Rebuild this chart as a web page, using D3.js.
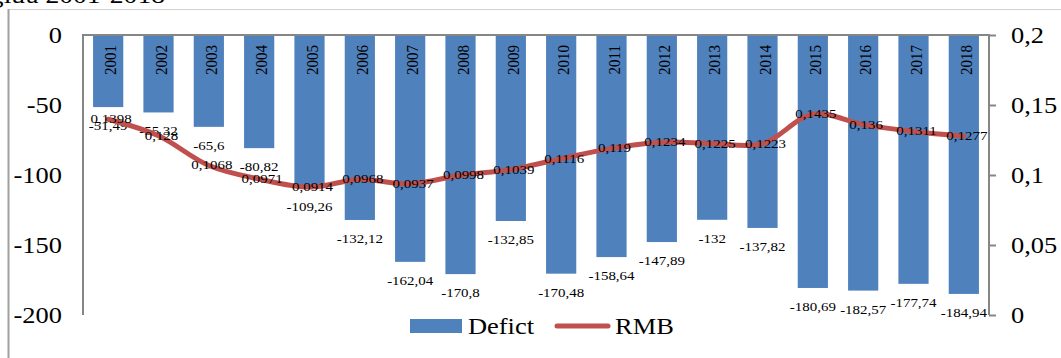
<!DOCTYPE html>
<html>
<head>
<meta charset="utf-8">
<script src="https://cdn.jsdelivr.net/npm/d3@7"></script>
<style>
  body { margin: 0; background: #fff; }
  svg { display: block; font-family: "Liberation Serif", "Times New Roman", serif; }
</style>
</head>
<body>
<div id="main"></div>
<script>
// chart values
const years = ["2001", "2002", "2003", "2004", "2005", "2006", "2007", "2008", "2009",
               "2010", "2011", "2012", "2013", "2014", "2015", "2016", "2017", "2018"];
const deficit = [-51.49, -55.32, -65.6, -80.82, -109.26, -132.12, -162.04, -170.8, -132.85,
                 -170.48, -158.64, -147.89, -132, -137.82, -180.69, -182.57, -177.74, -184.94];
const rmb = [0.1398, 0.128, 0.1068, 0.0971, 0.0914, 0.0968, 0.0937, 0.0998, 0.1039,
             0.1116, 0.119, 0.1234, 0.1225, 0.1223, 0.1435, 0.136, 0.1311, 0.1277];
const leftTicks = [0, -50, -100, -150, -200];
const rightTicks = [0, 0.05, 0.1, 0.15, 0.2];
const seriesNames = ["Defict", "RMB"];

const ctx = { w: 1061, h: 358, left: 83, right: 989, top: 35, bottom: 315, sx: 1.15 };
const blue = "#4F81BD", red = "#C0504D", axisGrey = "#868686";

const comma = v => String(v).replace(".", ",");

function stretch(x, y) {
    return "translate(" + x + "," + y + ") scale(" + ctx.sx + ",1)";
}

function createChart(svg) {
    // page title, mostly cut off at the top
    svg.append("text")
        .attr("text-anchor", "end")
        .attr("transform", stretch(165, 3))
        .style("font-size", "24px")
        .text("giữa 2001-2018");

    // outer frame
    svg.append("line").attr("x1", 8).attr("x2", ctx.w).attr("y1", 9.5).attr("y2", 9.5)
        .attr("stroke", "#d0d0d0").attr("stroke-width", 1);
    svg.append("line").attr("x1", 8.5).attr("x2", 8.5).attr("y1", 9).attr("y2", ctx.h)
        .attr("stroke", "#a0a0a0").attr("stroke-width", 2);

    let x = d3.scaleBand().domain(years).range([ctx.left, ctx.right])
        .paddingInner(0.4).paddingOuter(0.2);
    let yL = d3.scaleLinear().domain([-200, 0]).range([ctx.bottom, ctx.top]);
    let yR = d3.scaleLinear().domain([0, 0.2]).range([ctx.bottom, ctx.top]);

    // bars
    svg.selectAll(".bar")
        .data(years)
        .enter().append("rect")
        .attr("class", "bar")
        .attr("x", d => x(d))
        .attr("width", x.bandwidth())
        .attr("y", yL(0))
        .attr("height", (d, i) => yL(deficit[i]) - yL(0))
        .attr("fill", blue);

    // year labels inside bars
    svg.selectAll(".year")
        .data(years)
        .enter().append("text")
        .attr("class", "year")
        .attr("text-anchor", "end")
        .attr("dy", "0.35em")
        .attr("transform", d => stretch(x(d) + x.bandwidth() / 2 + 2, yL(0) + 10) + " rotate(-90)")
        .style("font-size", "15px")
        .text(d => d);

    // bar value labels
    svg.selectAll(".dlabel")
        .data(years)
        .enter().append("text")
        .attr("class", "dlabel")
        .attr("text-anchor", "middle")
        .attr("transform", (d, i) => stretch(x(d) + x.bandwidth() / 2, yL(deficit[i]) + 23))
        .style("font-size", "13px")
        .text((d, i) => comma(deficit[i]));

    // axes
    let axL = d3.axisLeft(yL).tickValues(leftTicks).tickSize(0).tickFormat(comma);
    let gL = svg.append("g").attr("transform", "translate(" + ctx.left + ",0)").call(axL);
    let axR = d3.axisRight(yR).tickValues(rightTicks).tickSize(7).tickFormat(comma);
    let gR = svg.append("g").attr("transform", "translate(" + ctx.right + ",0)").call(axR);

    [gL, gR].forEach(g => {
        g.attr("font-family", null).attr("font-size", null);
        g.select(".domain").remove();
        g.selectAll("line").attr("stroke", axisGrey).attr("stroke-width", 2);
        g.selectAll("text").style("font-size", "23px").attr("fill", "#000").attr("x", null);
    });
    gL.selectAll("text").attr("text-anchor", "end").attr("transform", stretch(-21, 0));
    gR.selectAll("text").attr("text-anchor", "start").attr("transform", stretch(22, 0));

    // plot frame: zero line on top, both vertical axes
    svg.append("path")
        .attr("d", "M" + ctx.left + "," + ctx.bottom + "V" + ctx.top + "H" + ctx.right + "V" + ctx.bottom)
        .attr("fill", "none")
        .attr("stroke", axisGrey)
        .attr("stroke-width", 2);

    // RMB line
    let line = d3.line()
        .x((d, i) => x(years[i]) + x.bandwidth() / 2)
        .y(d => yR(d))
        .curve(d3.curveCatmullRom.alpha(0.5));

    svg.append("path")
        .datum(rmb)
        .attr("d", line)
        .attr("fill", "none")
        .attr("stroke", red)
        .attr("stroke-width", 5)
        .attr("stroke-linejoin", "round")
        .attr("stroke-linecap", "round");

    svg.selectAll(".rlabel")
        .data(rmb)
        .enter().append("text")
        .attr("class", "rlabel")
        .attr("text-anchor", "middle")
        .attr("transform", (d, i) => stretch(x(years[i]) + x.bandwidth() / 2 + 3, yR(d) + 4))
        .style("font-size", "13px")
        .text(d => comma(d));

    // legend
    let lg = svg.append("g");
    lg.append("rect").attr("x", 410).attr("y", 319).attr("width", 52).attr("height", 14).attr("fill", blue);
    lg.append("text").attr("transform", stretch(468, 334)).style("font-size", "23px").text(seriesNames[0]);
    lg.append("line").attr("x1", 557).attr("x2", 608).attr("y1", 326).attr("y2", 326)
        .attr("stroke", red).attr("stroke-width", 5).attr("stroke-linecap", "round");
    lg.append("text").attr("transform", stretch(615, 334)).style("font-size", "23px").text(seriesNames[1]);
}

function createViz() {
    let svgEl = d3.select("#main").append("svg")
        .attr("width", ctx.w)
        .attr("height", ctx.h);
    createChart(svgEl);
}

createViz();
</script>
</body>
</html>
